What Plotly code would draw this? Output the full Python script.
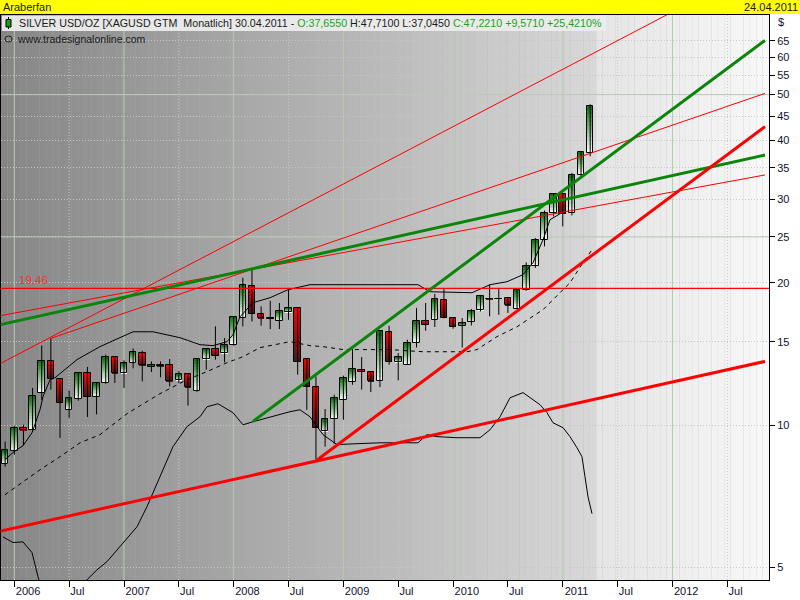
import math
import plotly.graph_objects as go

# ---------------- data ----------------
# month index: 0 = Jan 2006 (monthly bars Dec 2005 .. Apr 2011)
months = list(range(-1, 64))
opens = [8.28, 8.79, 9.84, 9.74, 11.69, 13.68, 12.53, 10.77, 11.35, 12.88, 11.49, 12.27, 13.92,
         12.88, 13.53, 14.20, 13.28, 13.37, 13.40, 12.45, 12.82, 11.78, 13.79, 14.50, 14.17,
         14.74, 16.87, 19.72, 17.17, 16.84, 16.62, 17.34, 17.69, 13.79, 12.03, 9.69, 10.30,
         11.31, 12.36, 13.09, 12.95, 12.37, 15.73, 13.59, 13.42, 14.91, 16.62, 16.65, 18.39,
         16.84, 16.22, 16.52, 17.47, 18.50, 18.46, 18.57, 17.60, 19.27, 21.73, 24.66, 28.08,
         30.81, 28.08, 33.85, 37.655]
highs = [9.23, 9.97, 10.01, 11.98, 14.72, 15.23, 12.55, 11.83, 12.90, 13.27, 12.28, 14.08, 13.93,
         13.70, 14.52, 14.36, 13.63, 13.63, 13.79, 12.99, 12.83, 13.83, 14.52, 16.17, 15.28,
         16.95, 20.50, 21.31, 17.82, 18.32, 18.12, 19.33, 17.70, 13.81, 12.67, 10.81, 11.59,
         12.72, 14.55, 13.93, 12.96, 15.79, 16.22, 14.20, 15.15, 17.69, 18.12, 18.93, 19.40,
         16.86, 16.84, 17.60, 18.79, 19.81, 19.40, 18.58, 19.49, 22.08, 24.87, 28.44, 30.85,
         30.85, 34.14, 37.80, 47.71]
lows = [8.17, 8.65, 9.06, 9.72, 11.31, 11.88, 9.39, 10.35, 11.26, 10.40, 10.53, 12.23, 12.27,
        11.98, 13.18, 12.37, 12.95, 12.61, 12.07, 12.27, 10.99, 11.76, 13.09, 13.75, 13.57,
        14.72, 16.17, 16.56, 16.22, 15.96, 15.96, 16.70, 12.78, 10.77, 8.45, 9.00, 9.13,
        10.26, 12.17, 11.88, 11.74, 12.03, 13.42, 12.43, 13.40, 14.59, 15.83, 16.12, 16.82,
        15.99, 14.59, 16.24, 17.39, 16.97, 17.11, 17.26, 17.59, 19.25, 21.49, 23.87, 27.62,
        26.32, 27.76, 33.57, 37.045]
closes = [8.85, 9.86, 9.74, 11.52, 13.68, 12.51, 11.13, 11.40, 12.88, 11.46, 12.27, 13.90, 12.88,
          13.53, 14.29, 13.37, 13.40, 13.33, 12.39, 12.80, 12.01, 13.81, 14.50, 14.00, 14.74,
          16.92, 19.81, 17.17, 16.84, 16.80, 17.39, 17.69, 13.59, 12.03, 9.85, 10.30, 11.40,
          12.57, 13.14, 12.95, 12.37, 15.78, 13.59, 13.92, 14.91, 16.56, 16.30, 18.48, 16.84,
          16.12, 16.44, 17.45, 18.71, 18.46, 18.50, 17.91, 19.27, 21.73, 24.66, 28.08, 30.81,
          27.99, 33.81, 37.73, 47.221]

# band lines (month index, price)
upper_m = [-1.02, -0.03, 0.95, 1.94, 2.81, 3.14, 3.91, 4.45, 6.86, 9.37, 12.99, 15.18, 18.14,
           20.31, 21.74, 23.27, 23.92, 24.69, 26.11, 27.97, 29.94, 32.35, 37.05, 39.67, 44.16,
           45.47, 48.43, 50.07, 52.04, 53.9, 55.65, 56.74, 57.84, 58.6, 59.7]
upper_p = [8.45, 8.78, 9.04, 9.63, 10.77, 11.48, 12.47, 12.59, 13.75, 14.65, 15.75, 15.75, 15.30,
           14.79, 14.72, 15.01, 15.53, 16.94, 18.15, 18.59, 19.33, 19.81, 19.81, 19.81, 19.81,
           19.14, 19.05, 19.05, 19.81, 20.10, 20.80, 22.05, 24.66, 27.18, 27.99]
middle_m = [-1.02, 2.81, 5.0, 7.19, 9.37, 12.33, 15.94, 18.89, 21.08, 23.27, 25.02, 26.88, 30.16,
            32.35, 33.77, 35.96, 41.1, 44.71, 49.52, 50.61, 52.8, 54.99, 57.84, 60.79, 62.21, 63.2]
middle_p = [7.12, 8.04, 8.57, 9.17, 9.54, 10.57, 11.65, 12.47, 12.97, 13.55, 13.95, 14.58, 15.01,
            14.72, 14.65, 14.44, 14.44, 14.29, 14.29, 14.44, 15.38, 16.14, 17.54, 20.0, 22.05, 23.49]
lower_m = [-1.24, -0.14, 0.95, 1.94, 2.59, 3.36, 5.22, 7.19, 7.73, 9.05, 10.14, 11.89, 13.42,
           14.52, 15.94, 17.36, 18.89, 20.31, 21.08, 22.28, 23.92, 25.02, 26.11, 30.16, 31.25,
           32.35, 33.77, 35.3, 37.49, 40.01, 44.16, 45.14, 46.24, 48.43, 50.95, 52.04, 53.14,
           54.23, 55.65, 57.51, 58.27, 58.93, 60.03, 60.79, 61.56, 62.1, 62.43, 62.76, 63.2]
lower_p = [5.80, 5.64, 5.66, 5.37, 4.78, 4.27, 3.51, 4.27, 4.66, 4.94, 5.14, 5.64, 6.09,
           6.72, 7.77, 9.00, 9.92, 10.41, 10.93, 11.09, 10.62, 10.01, 10.16, 10.67, 10.77,
           10.41, 9.54, 9.09, 9.13, 9.17, 9.17, 9.54, 9.45, 9.40, 9.40, 9.77, 10.41,
           11.42, 11.71, 11.04, 10.62, 10.11, 9.87, 9.45, 8.95, 8.57, 7.77, 7.05, 6.49]

# trend lines: (start month, start price, end month, end price)
thin_red_lines = [(-1.564, 13.48, 82.56, 95.7),
                  (3.905, 15.23, 82.12, 50.3),
                  (-1.564, 17.03, 82.12, 33.81)]
thick_green_lines = [(-1.564, 16.30, 82.12, 37.26),
                     (26.11, 10.18, 82.12, 65.1)]
thick_red_lines = [(33.08, 8.42, 82.12, 42.8),
                   (-1.564, 5.96, 82.12, 13.63)]
level_price = 19.46

x_tick_months = [0, 6, 12, 18, 24, 30, 36, 42, 48, 54, 60, 66, 72, 78]
x_tick_text = ["2006", "Jul", "2007", "Jul", "2008", "Jul", "2009", "Jul", "2010", "Jul",
               "2011", "Jul", "2012", "Jul"]
y_ticks = [5, 10, 15, 20, 25, 30, 35, 40, 45, 50, 55, 60, 65]

# ---------------- styling / geometry ----------------
XR = [-1.455, 82.56]
YR = [math.log10(4.70), math.log10(73.7)]
FONT = "Liberation Sans, Arial, sans-serif"
GREEN = "#0a850a"
RED = "#ff0000"

fig = go.Figure()

# Bollinger-type band lines
fig.add_trace(go.Scatter(x=upper_m, y=upper_p, mode="lines",
                         line=dict(color="black", width=1), hoverinfo="skip"))
fig.add_trace(go.Scatter(x=middle_m, y=middle_p, mode="lines",
                         line=dict(color="black", width=1, dash="4px,4px"), hoverinfo="skip"))
fig.add_trace(go.Scatter(x=lower_m, y=lower_p, mode="lines",
                         line=dict(color="black", width=1), hoverinfo="skip"))

# wicks
wx, wy = [], []
for m, h, l in zip(months, highs, lows):
    wx += [m, m, None]
    wy += [l, h, None]
fig.add_trace(go.Scatter(x=wx, y=wy, mode="lines", line=dict(color="black", width=1),
                         hoverinfo="skip"))

# gradient candle bodies
N = 12
def lerp(c1, c2, t):
    return "rgb(%d,%d,%d)" % tuple(round(a + (b - a) * t) for a, b in zip(c1, c2))

g_top, g_bot = (10, 115, 10), (255, 255, 255)
r_top, r_bot = (255, 0, 0), (64, 28, 28)
for i in range(N):
    bases, lens, cols = [], [], []
    for o, c in zip(opens, closes):
        lo, hi = min(o, c), max(o, c)
        if hi / lo < 1.003:
            hi = lo * 1.003
        r = hi / lo
        b = lo * r ** (i / N)
        t = lo * r ** (min(1.0, (i + 1.4) / N))
        bases.append(b)
        lens.append(t - b)
        f = (i + 0.5) / N
        cols.append(lerp(g_bot, g_top, f) if c >= o else lerp(r_bot, r_top, f))
    fig.add_trace(go.Bar(x=months, y=lens, base=bases, width=0.72,
                         marker=dict(color=cols, line=dict(width=0)), hoverinfo="skip"))

# body outlines
ob, ol = [], []
for o, c in zip(opens, closes):
    lo, hi = min(o, c), max(o, c)
    if hi / lo < 1.003:
        hi = lo * 1.003
    ob.append(lo)
    ol.append(hi - lo)
fig.add_trace(go.Bar(x=months, y=ol, base=ob, width=0.72,
                     marker=dict(color="rgba(0,0,0,0)", line=dict(color="black", width=1)),
                     hoverinfo="skip"))

# horizontal level
fig.add_trace(go.Scatter(x=[XR[0] - 1, XR[1] + 1], y=[level_price, level_price], mode="lines",
                         line=dict(color=RED, width=1.3), hoverinfo="skip"))

# trend lines
for (m0, p0, m1, p1) in thin_red_lines:
    fig.add_trace(go.Scatter(x=[m0, m1], y=[p0, p1], mode="lines",
                             line=dict(color=RED, width=1), hoverinfo="skip"))
for (m0, p0, m1, p1) in thick_green_lines:
    fig.add_trace(go.Scatter(x=[m0, m1], y=[p0, p1], mode="lines",
                             line=dict(color=GREEN, width=3), hoverinfo="skip"))
for (m0, p0, m1, p1) in thick_red_lines:
    fig.add_trace(go.Scatter(x=[m0, m1], y=[p0, p1], mode="lines",
                             line=dict(color=RED, width=3), hoverinfo="skip"))

# dummy trace for label axis
fig.add_trace(go.Scatter(x=[0], y=[10], xaxis="x2", mode="markers",
                         marker=dict(opacity=0), hoverinfo="skip"))

# ---------------- shapes ----------------
shapes = []
# background gradient strips
steps = 120
span = XR[1] - XR[0]
for k in range(steps):
    a = XR[0] + span * k / steps
    b = XR[0] + span * (k + 1) / steps + 0.01
    mid = (a + b) / 2
    if mid < 63.5:
        t = (mid - XR[0]) / (63.5 - XR[0])
        v = 134 + (216 - 134) * t
    else:
        t = (mid - 63.5) / (XR[1] - 63.5)
        v = 228 + (248 - 228) * t
    v = round(v)
    shapes.append(dict(type="rect", xref="x", yref="paper", x0=a, x1=b, y0=0, y1=1,
                       fillcolor="rgb(%d,%d,%d)" % (v, v, v), line=dict(width=0), layer="below"))
# vertical grid: solid at years, dotted at July
for m in x_tick_months:
    if m % 12 == 0:
        shapes.append(dict(type="line", xref="x", yref="paper", x0=m, x1=m, y0=0, y1=1,
                           line=dict(color="#b4cbb0", width=1), layer="below"))
    else:
        shapes.append(dict(type="line", xref="x", yref="paper", x0=m, x1=m, y0=0, y1=1,
                           line=dict(color="#c6c6c6", width=1, dash="1px,2px"), layer="below"))
# solid horizontal grid at 25 and 50
for yv in (25, 50):
    shapes.append(dict(type="line", xref="paper", yref="y", x0=0, x1=1, y0=yv, y1=yv,
                       line=dict(color="#b4cbb0", width=1), layer="below"))

# pixel -> paper helpers for chrome
def px(xp):
    return (xp - 1) / 768.0
def py(yp):
    return (580 - yp) / 565.0

# yellow title bar
shapes.append(dict(type="rect", xref="paper", yref="paper", x0=px(-2), x1=px(802),
                   y0=py(14), y1=py(-2), fillcolor="#ffff00", line=dict(width=0), layer="above"))
# header box
shapes.append(dict(type="rect", xref="paper", yref="paper", x0=px(2), x1=px(606),
                   y0=py(31), y1=py(15.5), fillcolor="rgba(236,236,236,0.95)",
                   line=dict(width=0), layer="above"))
# candle icon
shapes.append(dict(type="line", xref="paper", yref="paper", x0=px(8.5), x1=px(8.5),
                   y0=py(29), y1=py(17), line=dict(color="black", width=1), layer="above"))
shapes.append(dict(type="rect", xref="paper", yref="paper", x0=px(6), x1=px(11),
                   y0=py(27), y1=py(19.5), fillcolor="#11a011", line=dict(color="black", width=1),
                   layer="above"))
# eye icon
shapes.append(dict(type="circle", xref="paper", yref="paper", x0=px(5), x1=px(12),
                   y0=py(42), y1=py(36), line=dict(color="#202020", width=1), layer="above"))

# ---------------- annotations ----------------
ann = []
hdr = ("SILVER USD/OZ [XAGUSD GTM\u00a0\u00a0Monatlich] 30.04.2011 - "
       "<span style='color:#17a317'>O:37,6550</span> H:47,7100 L:37,0450 "
       "<span style='color:#17a317'>C:47,2210 +9,5710 +25,4210%</span>")
ann.append(dict(xref="paper", yref="paper", x=px(17), y=py(23.5), xanchor="left", yanchor="middle",
                text=hdr, showarrow=False, font=dict(family=FONT, size=10.7, color="#1a1a1a")))
ann.append(dict(xref="paper", yref="paper", x=px(15), y=py(39.5), xanchor="left", yanchor="middle",
                text="www.tradesignalonline.com", showarrow=False,
                font=dict(family=FONT, size=10.5, color="#1a1a1a")))
ann.append(dict(xref="paper", yref="paper", x=px(1), y=py(7), xanchor="left", yanchor="middle",
                text="Araberfan", showarrow=False, font=dict(family=FONT, size=11, color="#202000")))
ann.append(dict(xref="paper", yref="paper", x=px(800), y=py(7), xanchor="right", yanchor="middle",
                text="24.04.2011", showarrow=False, font=dict(family=FONT, size=11, color="#202000")))
ann.append(dict(xref="paper", yref="paper", x=px(776), y=py(22), xanchor="left", yanchor="middle",
                text="$", showarrow=False, font=dict(family=FONT, size=11, color="#101030")))
ann.append(dict(xref="x", yref="y", x=0.3, y=math.log10(level_price), xanchor="left",
                yanchor="bottom", yshift=0, text="19,46", showarrow=False,
                font=dict(family=FONT, size=11.5, color="#ff3030")))

label_shift = [1.5 if t != "Jul" else 0.9 for t in x_tick_text]

fig.update_layout(
    width=800, height=600,
    margin=dict(l=1, r=31, t=15, b=20),
    paper_bgcolor="white", plot_bgcolor="#b0b0b0",
    showlegend=False, barmode="overlay", bargap=0,
    shapes=shapes, annotations=ann,
    font=dict(family=FONT, size=11, color="#101030"),
    xaxis=dict(range=XR, tickmode="array", tickvals=x_tick_months,
               ticktext=[""] * len(x_tick_months), ticks="outside", ticklen=6,
               tickcolor="black", showgrid=False, zeroline=False, showline=True,
               linecolor="black", linewidth=1, mirror=True),
    xaxis2=dict(range=XR, overlaying="x", anchor="y", side="bottom", tickmode="array",
                tickvals=[m + s for m, s in zip(x_tick_months, label_shift)],
                ticktext=x_tick_text, ticks="", showgrid=False, zeroline=False,
                showline=False, ticklabelstandoff=3,
                tickfont=dict(family=FONT, size=11, color="#101030")),
    yaxis=dict(type="log", range=YR, side="right", tickmode="array", tickvals=y_ticks,
               ticktext=[str(v) for v in y_ticks], ticks="outside", ticklen=5,
               tickcolor="black", showgrid=True, gridcolor="#c6c6c6", griddash="1px,2px",
               zeroline=False, showline=True, linecolor="black", linewidth=1, mirror=True,
               tickfont=dict(family=FONT, size=11, color="#101030")),
)

fig.write_html("out.html", config={"displayModeBar": False},
               post_script="document.body.style.margin='0px';document.body.style.overflow='hidden';")
